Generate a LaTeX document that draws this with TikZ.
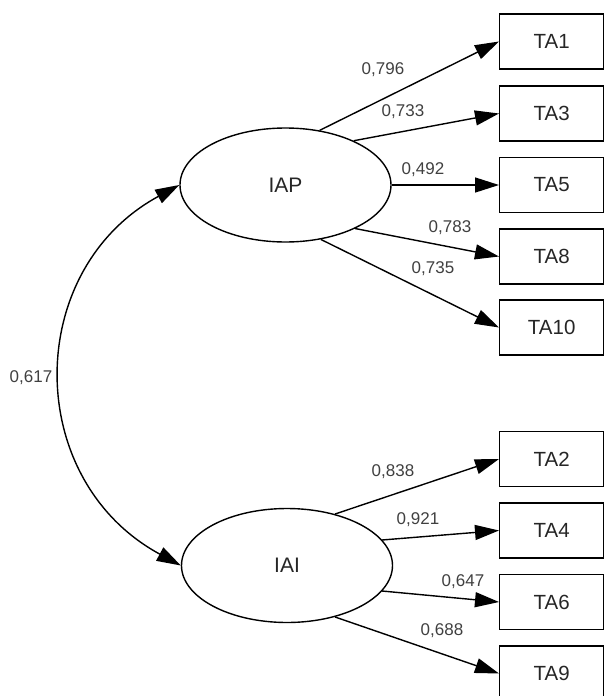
\documentclass[tikz,border=0pt]{standalone}
\usepackage{fontspec}
\setmainfont{Liberation Sans}
\usetikzlibrary{shapes.geometric,arrows.meta}
\begin{document}
\begin{tikzpicture}[x=1pt,y=-1pt,
  ind/.style={draw,line width=1.4pt,minimum width=104pt,minimum height=55pt,anchor=west,inner sep=0pt,font=\fontsize{20.5}{22}\selectfont,text=black!85},
  lat/.style={draw,ellipse,line width=1.4pt,minimum width=211pt,minimum height=114pt,inner sep=0pt,font=\fontsize{21}{23}\selectfont,text=black!85},
  path/.style={line width=1.4pt,-{Triangle[length=24pt,width=15pt]}},
  lbl/.style={font=\fontsize{17}{19}\selectfont,text=black!75,inner sep=0pt}]
\useasboundingbox (0,0) rectangle (603,696);
\node[lat] (IAP) at (285.5,185) {IAP};
\node[lat] (IAI) at (287,565.5) {IAI};
\node[ind] (TA1) at (499,41.5) {TA1};
\node[ind] (TA3) at (499,113.5) {TA3};
\node[ind] (TA5) at (499,185) {TA5};
\node[ind] (TA8) at (499,256.5) {TA8};
\node[ind] (TA10) at (499,327.5) {TA10};
\node[ind] (TA2) at (499,459) {TA2};
\node[ind] (TA4) at (499,530.5) {TA4};
\node[ind] (TA6) at (499,602) {TA6};
\node[ind] (TA9) at (499,673.5) {TA9};
\draw[path] (IAP.58) -- (TA1.west);
\draw[path] (IAP.33) -- (TA3.west);
\draw[path] (IAP.east) -- (TA5.west);
\draw[path] (IAP.-32) -- (TA8.west);
\draw[path] (IAP.-57.5) -- (TA10.west);
\draw[path] (IAI.47) -- (TA2.west);
\draw[path] (IAI.15) -- (TA4.west);
\draw[path] (IAI.-15.6) -- (TA6.west);
\draw[path] (IAI.-47) -- (TA9.west);
\draw[line width=1.4pt,{Triangle[length=24pt,width=15pt]}-{Triangle[length=24pt,width=15pt]}]
  (IAP.west) .. controls (23,270) and (23,480) .. (IAI.west);
\node[lbl] (l1) at (383,70) {0,796};
\node[lbl] (l3) at (403,112) {0,733};
\node[lbl] (l5) at (423,170) {0,492};
\node[lbl] (l8) at (450,228) {0,783};
\node[lbl] (l10) at (433,269) {0,735};
\node[lbl] (l2) at (393,472) {0,838};
\node[lbl] (l4) at (418,520) {0,921};
\node[lbl] (l6) at (463,582) {0,647};
\node[lbl] (l9) at (442,631) {0,688};
\node[lbl] (lc) at (31,378) {0,617};
\end{tikzpicture}
\end{document}
